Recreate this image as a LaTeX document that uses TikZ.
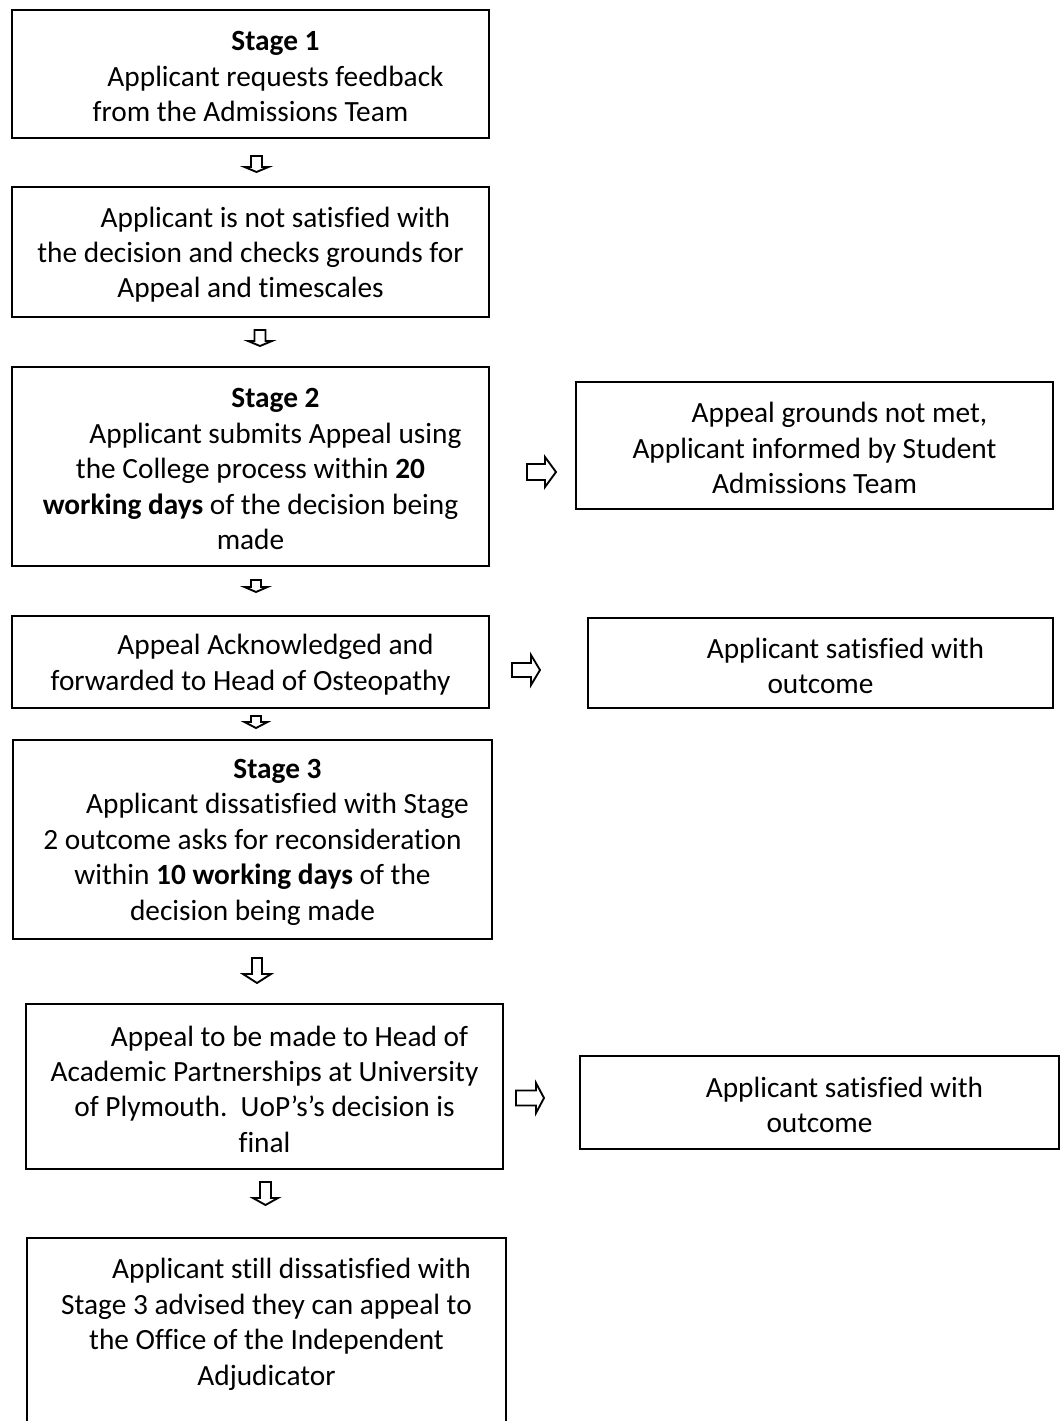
\documentclass[tikz,border=0pt]{standalone}
\usepackage{fontspec}
\setmainfont{Carlito}[Ligatures=NoCommon]
\usetikzlibrary{fit,calc}
\newcommand\ind{\hspace*{37.5pt}}
\tikzset{
  stepbox/.style={draw, line width=1.5pt, inner sep=0pt},
  txt/.style={inner sep=0pt, align=center, yshift=-2pt,
    font=\fontsize{22}{26.6}\selectfont},
  blk/.style={draw, line width=1.4pt, line join=miter, fill=white},
}
\newcommand\dnarrow[6]{% x, top, base, tip, shaft half, head half
  \draw[blk] (#1-#5,#2) -- (#1-#5,#3) -- (#1-#6,#3) -- (#1,#4) -- (#1+#6,#3) -- (#1+#5,#3) -- (#1+#5,#2) -- cycle;}
\newcommand\rtarrow[6]{% left, base, tip, ymid, shaft half, head half
  \draw[blk] (#1,#4-#5) -- (#2,#4-#5) -- (#2,#4-#6) -- (#3,#4) -- (#2,#4+#6) -- (#2,#4+#5) -- (#1,#4+#5) -- cycle;}
\begin{document}
\begin{tikzpicture}[x=0.75pt,y=-0.75pt]
\useasboundingbox[fill=white] (0,0) rectangle (1061,1421);

\node[stepbox, fit={(12,10) (489,138)}, label={[txt]center:{\ind\textbf{Stage 1}\\ \ind Applicant requests feedback\\ from the Admissions Team}}] (b1) {};
\node[stepbox, fit={(12,187) (489,317)}, label={[txt]center:{\ind Applicant is not satisfied with\\ the decision and checks grounds for\\ Appeal and timescales}}] (b2) {};
\node[stepbox, fit={(12,367) (489,566)}, label={[txt]center:{\ind\textbf{Stage 2}\\ \ind Applicant submits Appeal using\\ the College process within \textbf{20}\hspace*{19.5pt}\\ \textbf{working days} of the decision being\\ made}}] (b3) {};
\node[stepbox, fit={(576,382) (1053,509)}, label={[txt]center:{\ind Appeal grounds not met,\\ Applicant informed by Student\\ Admissions Team}}] (r3) {};
\node[stepbox, fit={(12,616) (489,708)}, label={[txt]center:{\ind Appeal Acknowledged and\\ forwarded to Head of Osteopathy}}] (b4) {};
\node[stepbox, fit={(588,618) (1053,708)}, label={[txt]center:{\ind Applicant satisfied with\\ outcome}}] (r4) {};
\node[stepbox, fit={(13,740) (492,939)}, label={[txt]center:{\ind\textbf{Stage 3}\\ \ind Applicant dissatisfied with Stage\\ 2 outcome asks for reconsideration\\ within \textbf{10 working days} of the\\ decision being made}}] (b5) {};
\node[stepbox, fit={(26,1004) (503,1169)}, label={[txt]center:{\ind Appeal to be made to Head of\\ Academic Partnerships at University\\ of Plymouth.\ \ UoP’s’s decision is\\ final}}] (b6) {};
\node[stepbox, fit={(580,1056) (1059,1149)}, label={[txt]center:{\ind Applicant satisfied with\\ outcome}}] (r6) {};
\node[stepbox, draw=none, fit={(28,1239) (505,1404)}, label={[txt]center:{\ind Applicant still dissatisfied with\\ Stage 3 advised they can appeal to\\ the Office of the Independent\\ Adjudicator}}] (b7) {};
\draw[line width=1.5pt] ($(b7.north west)+(0,260)$) -- (b7.north west) -- (b7.north east) -- ($(b7.north east)+(0,260)$);

% down arrows between the stage boxes
\dnarrow{256.5}{156}{167}{172}{5.5}{12}
\dnarrow{260}{330}{341}{346}{5.5}{12}
\dnarrow{256}{580}{587}{592}{5}{11.5}
\dnarrow{256}{716}{722}{728}{5}{11.5}
\dnarrow{257}{958}{974}{983}{5}{14}
\dnarrow{265.5}{1182}{1198}{1205}{5.5}{12.5}

% right arrows towards the outcome boxes
\rtarrow{527}{545}{556}{472}{8}{15}
\rtarrow{512}{531}{540}{670}{7}{15}
\rtarrow{516}{536}{544}{1098}{7.5}{15}
\end{tikzpicture}
\end{document}
